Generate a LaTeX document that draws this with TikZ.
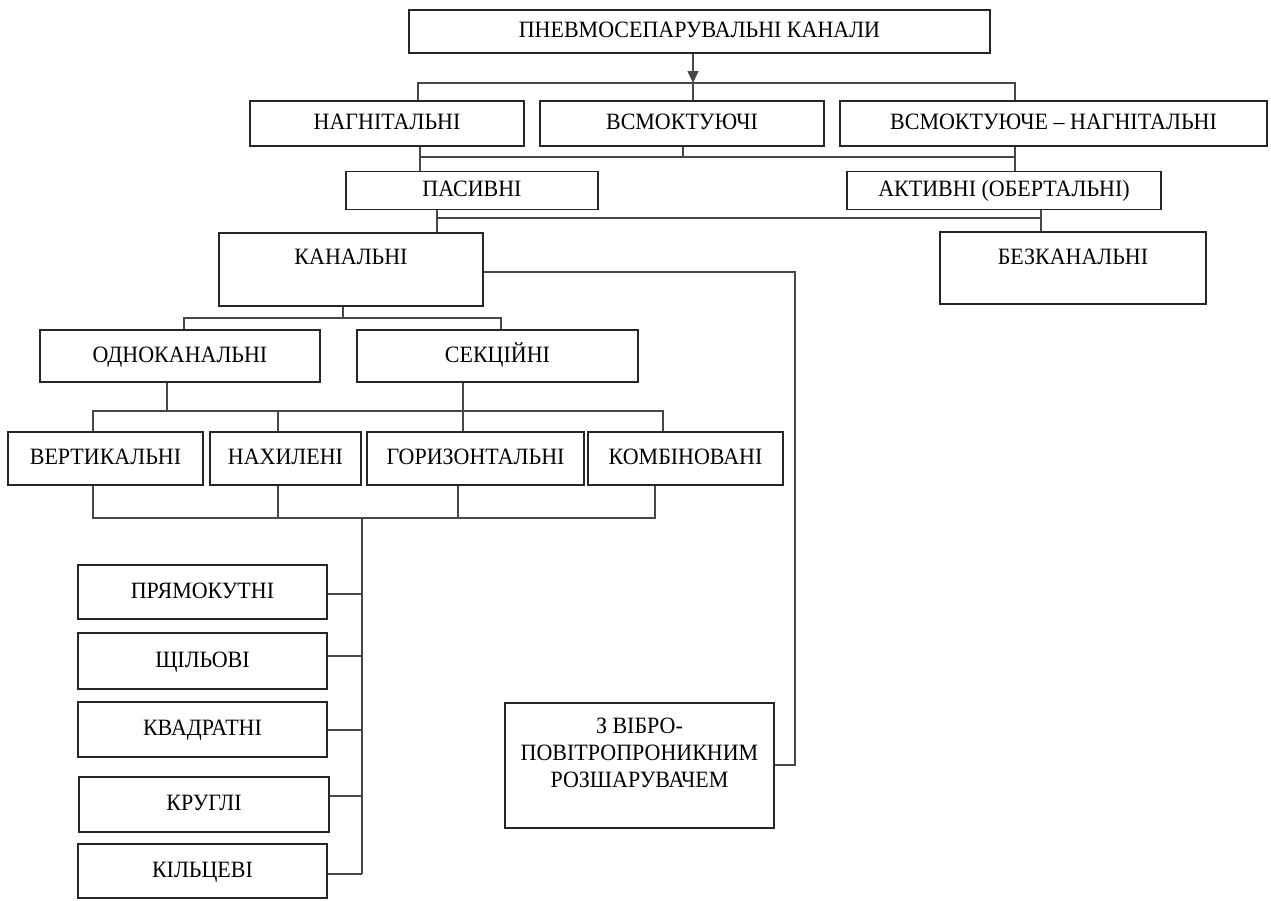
\documentclass[tikz,border=0pt]{standalone}
\usepackage{fontspec}
\setmainfont[FakeStretch=0.94]{Liberation Serif}
\usetikzlibrary{arrows.meta}
\begin{document}
\begin{tikzpicture}[x=1pt,y=-1pt,
  txt/.style={font=\fontsize{23.4}{27}\selectfont, text height=16pt, text depth=4pt},
  box/.style={txt, draw=black!85, line width=1.2pt, rectangle, inner sep=0pt},
  toptext/.style={txt},
  conn/.style={draw=black!72, line width=1.3pt},
  arr/.style={conn, -{Triangle[length=12pt,width=11pt]}}]
\useasboundingbox (0,0) rectangle (1271,900);
% boxes
\node[box, minimum width=581, minimum height=43] (top) at (699.5,31.5) {ПНЕВМОСЕПАРУВАЛЬНІ КАНАЛИ};
\node[box, minimum width=274, minimum height=45] (nag) at (387,123.5) {НАГНІТАЛЬНІ};
\node[box, minimum width=284, minimum height=45] (vsm) at (682,123.5) {ВСМОКТУЮЧІ};
\node[box, minimum width=427, minimum height=45] (vsmnag) at (1053.5,123.5) {ВСМОКТУЮЧЕ – НАГНІТАЛЬНІ};
\node[box, minimum width=252, minimum height=38] (pas) at (472,190.5) {ПАСИВНІ};
\node[box, minimum width=314, minimum height=38] (akt) at (1004,190.5) {АКТИВНІ (ОБЕРТАЛЬНІ)};
\node[box, minimum width=264, minimum height=73] (kan) at (351,269.5) {};
\node[toptext] (kant) at (351,258) {КАНАЛЬНІ};
\node[box, minimum width=266, minimum height=72] (bez) at (1073,268) {};
\node[toptext] (bezt) at (1073,258) {БЕЗКАНАЛЬНІ};
\node[box, minimum width=280, minimum height=52] (odno) at (180,356) {ОДНОКАНАЛЬНІ};
\node[box, minimum width=281, minimum height=52] (sek) at (497.5,356) {СЕКЦІЙНІ};
\node[box, minimum width=195, minimum height=53] (vert) at (105.5,458.5) {ВЕРТИКАЛЬНІ};
\node[box, minimum width=151, minimum height=53] (nakh) at (285.5,458.5) {НАХИЛЕНІ};
\node[box, minimum width=217, minimum height=53] (hor) at (475.5,458.5) {ГОРИЗОНТАЛЬНІ};
\node[box, minimum width=195, minimum height=53] (komb) at (685.5,458.5) {КОМБІНОВАНІ};
\node[box, minimum width=249, minimum height=54] (pry) at (202.5,592) {ПРЯМОКУТНІ};
\node[box, minimum width=249, minimum height=56] (shch) at (202.5,661) {ЩІЛЬОВІ};
\node[box, minimum width=249, minimum height=55] (kvad) at (202.5,729.5) {КВАДРАТНІ};
\node[box, minimum width=250, minimum height=55] (krug) at (204,804.5) {КРУГЛІ};
\node[box, minimum width=249, minimum height=54] (kil) at (202.5,871) {КІЛЬЦЕВІ};
\node[box, minimum width=269, minimum height=125] (zvib) at (639.5,765.5) {};
\node[align=center, font=\fontsize{23.4}{27}\selectfont] (zvibt) at (639.5,753) {З ВІБРО-\\ПОВІТРОПРОНИКНИМ\\РОЗШАРУВАЧЕМ};
% level 1
\coordinate (b1) at (693,83);
\draw[arr] (top.south -| b1) -- (b1);
\draw[conn] (b1) -- (b1 |- vsm.north);
\draw[conn] (nag.north -| 418,0) -- (418,83) -- (1015,83) -- (vsmnag.north -| 1015,0);
% level 2
\draw[conn] (nag.south -| 420,0) -- (pas.north -| 420,0);
\draw[conn] (vsmnag.south -| 1015,0) -- (akt.north -| 1015,0);
\draw[conn] (420,157) -- (1015,157);
\draw[conn] (vsm.south -| 683,0) -- (683,157);
% level 3
\draw[conn] (pas.south -| 437,0) -- (kan.north -| 437,0);
\draw[conn] (akt.south -| 1041,0) -- (bez.north -| 1041,0);
\draw[conn] (437,218) -- (1041,218);
% kanalni to zvib
\draw[conn] (kan.east |- 0,272) -- (795,272) -- (795,765) -- (zvib.east |- 0,765);
% level 4
\draw[conn] (kan.south -| 343,0) -- (343,318);
\draw[conn] (odno.north -| 184,0) -- (184,318) -- (501,318) -- (sek.north -| 501,0);
% level 5
\draw[conn] (odno.south -| 167,0) -- (167,411);
\draw[conn] (sek.south -| 463,0) -- (hor.north -| 463,0);
\draw[conn] (vert.north -| 93,0) -- (93,411) -- (663,411) -- (komb.north -| 663,0);
\draw[conn] (278,411) -- (nakh.north -| 278,0);
% bottom bus
\draw[conn] (vert.south -| 93,0) -- (93,518) -- (655,518) -- (komb.south -| 655,0);
\draw[conn] (nakh.south -| 278,0) -- (278,518);
\draw[conn] (hor.south -| 458,0) -- (458,518);
\coordinate (v1) at (362,518);
\coordinate (v2) at (362,874);
\draw[conn] (v1) -- (v2);
\draw[conn] (pry.east |- 0,594) -- (362,594);
\draw[conn] (shch.east |- 0,656) -- (362,656);
\draw[conn] (kvad.east |- 0,730) -- (362,730);
\draw[conn] (krug.east |- 0,796) -- (362,796);
\draw[conn] (kil.east |- 0,874) -- (v2);
\end{tikzpicture}
\end{document}
